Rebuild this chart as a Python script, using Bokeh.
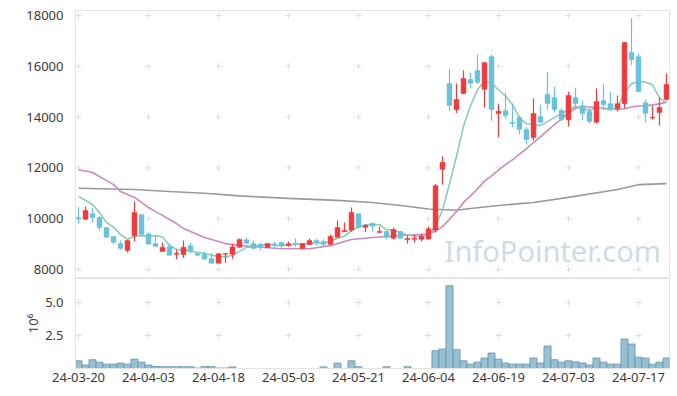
from bokeh.plotting import figure
from bokeh.models import Range1d, FixedTicker, ColumnDataSource, Label
from bokeh.layouts import column
from bokeh.embed import file_html
from bokeh.resources import INLINE

# ---------------- data ----------------
dates = [
    "03-20", "03-21", "03-22", "03-25", "03-26", "03-27", "03-28", "03-29", "04-01", "04-02",
    "04-03", "04-04", "04-05", "04-08", "04-09", "04-11", "04-12", "04-15", "04-16", "04-17",
    "04-18", "04-19", "04-22", "04-23", "04-24", "04-25", "04-26", "04-29", "04-30", "05-02",
    "05-03", "05-07", "05-08", "05-09", "05-10", "05-13", "05-14", "05-16", "05-17", "05-20",
    "05-21", "05-22", "05-23", "05-24", "05-27", "05-28", "05-29", "05-30", "05-31", "06-03",
    "06-04", "06-05", "06-07", "06-10", "06-11", "06-12", "06-13", "06-14", "06-17", "06-18",
    "06-19", "06-20", "06-21", "06-24", "06-25", "06-26", "06-27", "06-28", "07-01", "07-02",
    "07-03", "07-04", "07-05", "07-08", "07-09", "07-10", "07-11", "07-12", "07-15", "07-16",
    "07-17", "07-18", "07-19", "07-22", "07-23",
]
year_prefix = "24-"

opens = [10050, 9980, 10200, 10050, 9650, 9300, 9020, 8750, 9330, 10160,
         9400, 9020, 8710, 8910, 8600, 8590, 8940, 8630, 8600, 8430,
         8250, 8600, 8600, 8880, 9170, 9020, 8980, 8870, 9010, 9060,
         8950, 9030, 8830, 8980, 9140, 9100, 8990, 9270, 9490, 9550,
         10200, 9660, 9810, 9460, 9500, 9230, 9500, 9180, 9190, 9190,
         9200, 9550, 11950, 15320, 14300, 14930, 15480, 15830, 15100, 16380,
         14140, 14250, 13800, 13980, 13510, 13200, 14020, 14890, 14770, 14260,
         13900, 14770, 14450, 14220, 13800, 14650, 14530, 14340, 14530, 16540,
         16380, 14570, 13960, 14180, 14690]
highs = [10450, 10480, 10420, 10100, 9650, 9300, 9140, 9150, 10680, 10180,
         9470, 9340, 9060, 9000, 8780, 9140, 9060, 8690, 8710, 8640,
         8640, 8660, 9000, 9220, 9260, 9140, 9060, 9040, 9100, 9100,
         9100, 9220, 9040, 9220, 9210, 9180, 9380, 9930, 9850, 10440,
         10200, 9780, 9850, 9690, 9520, 9650, 9520, 9330, 9360, 9400,
         9690, 11380, 12450, 15900, 15320, 15830, 15750, 16460, 16150, 16460,
         14530, 14970, 14530, 14050, 13600, 14730, 14490, 15790, 15200, 14340,
         15000, 15160, 14650, 14380, 15130, 15280, 15000, 14850, 16950, 17900,
         16500, 14690, 14450, 14770, 15720]
lows = [9800, 9950, 9850, 9550, 9250, 8980, 8780, 8670, 9100, 9370,
        8980, 8890, 8700, 8550, 8400, 8450, 8650, 8510, 8370, 8230,
        8240, 8270, 8420, 8860, 9000, 8800, 8760, 8860, 8870, 8830,
        8900, 8900, 8820, 8960, 8950, 8920, 8970, 9260, 9480, 9490,
        9600, 9470, 9500, 9450, 9180, 9180, 9220, 9020, 9060, 9100,
        9170, 9460, 11350, 14250, 14160, 14900, 15130, 15300, 14380, 13860,
        13200, 13950, 13600, 13320, 12920, 13080, 13750, 14300, 14180, 13850,
        13630, 14300, 13870, 13750, 13750, 14300, 14260, 14220, 14340, 16050,
        14980, 13790, 13900, 13670, 14650]
closes = [10000, 10320, 10050, 9650, 9270, 9070, 8830, 9140, 10240, 9380,
          9000, 8910, 8870, 8560, 8640, 8880, 8720, 8560, 8410, 8250,
          8620, 8630, 8890, 9180, 9030, 8830, 8880, 9020, 8990, 8950,
          9010, 9000, 9020, 9140, 9070, 8990, 9300, 9650, 9540, 10240,
          9650, 9730, 9700, 9500, 9270, 9570, 9230, 9230, 9230, 9310,
          9600, 11300, 12220, 14460, 14690, 15520, 15330, 15370, 16150, 14300,
          14230, 14060, 13750, 13520, 13120, 14140, 13800, 14540, 14300, 13910,
          14850, 14540, 14150, 13830, 14610, 14500, 14340, 14530, 16940, 16270,
          15000, 14150, 13990, 14380, 15280]
volumes = [580000, 260000, 660000, 480000, 330000, 330000, 410000, 330000, 710000, 480000,
           260000, 150000, 130000, 130000, 130000, 130000, 130000, 30000, 140000, 140000,
           30000, 30000, 120000, 0, 0, 0, 0, 0, 0, 0,
           0, 0, 0, 0, 0, 120000, 0, 410000, 0, 580000,
           130000, 0, 0, 0, 130000, 0, 0, 130000, 0, 0,
           0, 1340000, 1470000, 6270000, 1420000, 580000, 330000, 480000, 790000, 1170000,
           710000, 410000, 330000, 330000, 330000, 790000, 410000, 1700000, 660000, 480000,
           580000, 500000, 410000, 260000, 790000, 480000, 330000, 330000, 2230000, 1850000,
           860000, 790000, 330000, 480000, 790000]

ma5 = [10880, 10720, 10560, 10240, 9858, 9672, 9374, 9192, 9310, 9332,
       9318, 9334, 9280, 8944, 8796, 8772, 8734, 8672, 8642, 8564,
       8512, 8494, 8560, 8714, 8870, 8912, 8962, 8988, 8950, 8934,
       8970, 8994, 8994, 9024, 9048, 9044, 9104, 9230, 9310, 9544,
       9676, 9762, 9772, 9764, 9570, 9554, 9454, 9360, 9306, 9314,
       9320, 9734, 10332, 11378, 12454, 13638, 14444, 15074, 15412, 15334,
       15076, 14822, 14498, 13972, 13736, 13718, 13666, 13824, 13980, 14138,
       14280, 14428, 14350, 14256, 14396, 14326, 14286, 14362, 14984, 15316,
       15416, 15378, 15270, 14758, 14560]

ma20_idx = [0, 1, 2, 3, 4, 5, 6, 7, 8, 9, 10, 11, 12, 13, 14, 15, 16, 17, 18, 19,
            20, 21, 22, 25, 29, 33, 36, 39, 42, 46,
            50, 51, 52, 53, 54, 55, 56, 57, 58, 59, 60, 61, 62, 63, 64, 65, 66, 67, 68, 69,
            70, 71, 72, 73, 74, 75, 76, 77, 78, 79, 80, 81, 82, 83, 84]
ma20_val = [11930, 11880, 11820, 11660, 11500, 11340, 11070, 10950, 10840, 10640,
            10440, 10280, 10130, 9970, 9810, 9610, 9500, 9380, 9260, 9180,
            9100, 9020, 8980, 8900, 8820, 8820, 8940, 9180, 9260, 9340,
            9398, 9520, 9690, 9980, 10280, 10640, 10900, 11170, 11480, 11690,
            11910, 12130, 12320, 12540, 12760, 13000, 13220, 13470, 13700, 13930,
            14180, 14340, 14420, 14400, 14380, 14350, 14320, 14300, 14330, 14400,
            14440, 14450, 14480, 14520, 14590]

ma120_idx = [0, 8, 13, 18, 23, 30, 37, 42, 46, 50, 54, 56, 60, 65, 70, 77, 80, 84]
ma120_val = [11200, 11150, 11070, 11000, 10900, 10800, 10720, 10640, 10520, 10380,
             10330, 10400, 10520, 10640, 10840, 11150, 11340, 11380]

price_ticks = [8000, 10000, 12000, 14000, 16000, 18000]
vol_ticks = [2.5, 5.0]
date_ticks = [0, 10, 20, 30, 40, 50, 60, 70, 80]

# ---------------- styling ----------------
UP = "#f03a3e"
DOWN = "#68c2d9"
FONT = "Noto Sans"
GRID_C = "#dedede"
EDGE_C = "#e4e4e4"
LABEL_C = "#3a3a3a"

n = len(closes)
xs = list(range(n))
colors = [UP if c >= o else DOWN for o, c in zip(opens, closes)]
src = ColumnDataSource(dict(
    x=xs, o=opens, h=highs, l=lows, c=closes,
    top=[max(o, c) for o, c in zip(opens, closes)],
    bot=[min(o, c) for o, c in zip(opens, closes)],
    color=colors,
    vol=[v / 1e6 for v in volumes],
))

xr = Range1d(-0.43, 84.43)

p = figure(width=671, height=278, x_range=xr, y_range=Range1d(7646, 18197),
           output_backend="svg", toolbar_location=None, x_axis_location=None,
           min_border_left=75, min_border_right=2, min_border_top=10, min_border_bottom=0)
p.background_fill_color = "white"
p.border_fill_color = "white"
p.outline_line_color = EDGE_C
p.xgrid.grid_line_color = None
p.ygrid.grid_line_color = None
p.yaxis.ticker = FixedTicker(ticks=price_ticks)
p.yaxis.major_label_overrides = {t: str(t) for t in price_ticks}
p.yaxis.major_tick_line_color = None
p.yaxis.minor_tick_line_color = None
p.yaxis.axis_line_color = EDGE_C
p.yaxis.major_label_text_font = FONT
p.yaxis.major_label_text_font_size = "13px"
p.yaxis.major_label_text_color = LABEL_C
p.yaxis.major_label_standoff = 6

# cross grid markers
gx = [t for t in date_ticks for _ in price_ticks]
gy = [y for _ in date_ticks for y in price_ticks]
p.scatter(gx, gy, marker="cross", size=6, line_color=GRID_C, line_width=1)

# watermark
p.add_layout(Label(x=52.3, y=7990, text="InfoPointer.com", text_font=FONT,
                   text_font_size="29px", text_color="#c5d9e5", text_alpha=0.9))

# moving averages
p.line(ma120_idx, ma120_val, line_color="#9a9a9a", line_width=1.6)
p.line(ma20_idx, ma20_val, line_color="#c98bc4", line_width=1.6)
p.line(xs, ma5, line_color="#8ccab9", line_width=1.6)

# candles
p.segment(x0="x", y0="h", x1="x", y1="l", color="color", line_width=1.2, source=src)
p.vbar(x="x", width=0.7, top="top", bottom="bot", fill_color="color",
       line_color="color", line_width=0.5, source=src)

# ---------------- volume ----------------
v = figure(width=671, height=111, x_range=xr, y_range=Range1d(0, 6.82),
           output_backend="svg", toolbar_location=None,
           min_border_left=75, min_border_right=2, min_border_top=0, min_border_bottom=21)
v.background_fill_color = "white"
v.border_fill_color = "white"
v.outline_line_color = EDGE_C
v.xgrid.grid_line_color = None
v.ygrid.grid_line_color = None
vx = [t for t in date_ticks for _ in vol_ticks]
vy = [y for _ in date_ticks for y in vol_ticks]
v.scatter(vx, vy, marker="cross", size=6, line_color=GRID_C, line_width=1)
v.vbar(x="x", width=1.0, top="vol", bottom=0, fill_color="#98c0d3",
       line_color="#6e9fb8", line_width=1, source=src)

v.yaxis.ticker = FixedTicker(ticks=vol_ticks)
v.yaxis.major_label_overrides = {2.5: "2.5", 5.0: "5.0"}
v.yaxis.major_tick_line_color = None
v.yaxis.minor_tick_line_color = None
v.yaxis.axis_line_color = EDGE_C
v.yaxis.major_label_text_font = FONT
v.yaxis.major_label_text_font_size = "13px"
v.yaxis.major_label_text_color = LABEL_C
v.yaxis.major_label_standoff = 6
v.yaxis.axis_label = "10⁶"
v.yaxis.axis_label_text_font = FONT
v.yaxis.axis_label_text_font_size = "13px"
v.yaxis.axis_label_text_font_style = "normal"
v.yaxis.axis_label_text_color = LABEL_C
v.yaxis.axis_label_standoff = 0

v.xaxis.ticker = FixedTicker(ticks=date_ticks)
v.xaxis.major_label_overrides = {t: year_prefix + dates[t] for t in date_ticks}
v.xaxis.major_tick_line_color = None
v.xaxis.minor_tick_line_color = None
v.xaxis.major_tick_out = 0
v.xaxis.major_tick_in = 0
v.xaxis.axis_line_color = EDGE_C
v.xaxis.major_label_text_font = FONT
v.xaxis.major_label_text_font_size = "13px"
v.xaxis.major_label_text_color = LABEL_C
v.xaxis.major_label_standoff = 4

layout = column(p, v, spacing=0)
open("out.html", "w").write(file_html(layout, INLINE))
